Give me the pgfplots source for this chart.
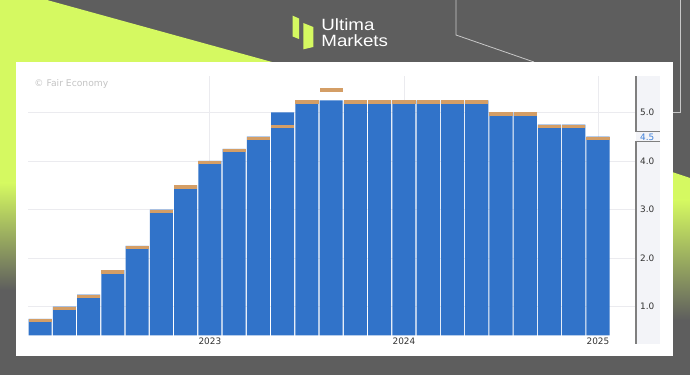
\documentclass[border=0pt]{standalone}
\usepackage{fontspec}
\setmainfont{DejaVu Sans}
\newfontfamily\logofont[FakeStretch=1.15]{Liberation Sans}
\usepackage{pgfplots}
\pgfplotsset{compat=1.18}
\definecolor{bggray}{HTML}{5E5E5E}
\definecolor{lime}{HTML}{D5F961}
\definecolor{stripc}{HTML}{F3F4F8}
\definecolor{axisgray}{HTML}{7F7F7F}
\definecolor{gridc}{HTML}{EBEBEF}
\definecolor{barblue}{HTML}{3173C9}
\definecolor{fcorange}{HTML}{D49E66}
\definecolor{txt}{HTML}{333333}
\definecolor{lblblue}{HTML}{3D7FD9}
\definecolor{thinline}{HTML}{C8C8C8}
\definecolor{copyc}{HTML}{C4C4C4}
\pgfdeclareplotmark{fband}{%
  \pgfpathrectangle{\pgfpoint{-11.6bp}{-3.4bp}}{\pgfpoint{23.2bp}{3.4bp}}%
  \pgfusepathqfill}
\begin{document}
\begin{tikzpicture}[x=1bp,y=1bp]
\useasboundingbox (0,0) rectangle (690,375);
\fill[bggray] (0,0) rectangle (690,375);
% lime decorations
\fill[lime] (0,375) -- (47,375) -- (272,313) -- (272,310) -- (0,310) -- cycle;
\fill[lime] (0,310.5) rectangle (17,192);
\shade[top color=lime, bottom color=bggray] (0,192.2) rectangle (17,85);
\fill[lime] (672,203) -- (690,197) -- (690,175) -- (672,175) -- cycle;
\shade[top color=lime, bottom color=bggray] (672,175.2) rectangle (690,55);
% thin lines
\draw[thinline, line width=0.8] (456,376) -- (456,340) -- (534,313);
\draw[thinline, line width=0.8] (680,376) -- (680,263) -- (672,263);
% white panel
\fill[white] (16,313) rectangle (673,19.5);
% logo
\fill[lime] (292.7,359.3) -- (299,356.5) -- (299,336) -- (292.7,338.5) -- cycle;
\fill[lime] (303.3,352) -- (313.3,348) -- (313.3,328) -- (303.3,325.7) -- cycle;
\node[anchor=base west, inner sep=0, text=white, font=\logofont\fontsize{16.3bp}{17bp}\selectfont] at (321.2,344.3) {Ultima};
\node[anchor=base west, inner sep=0, text=white, font=\logofont\fontsize{16.3bp}{17bp}\selectfont] at (321.2,328.8) {Markets};
% copyright
\node[anchor=west, inner sep=0, text=copyc, font=\fontsize{9.2bp}{10bp}\selectfont] at (34.3,290.7) {© Fair Economy};
% right strip
\fill[stripc] (636,299) rectangle (660,31);
\begin{axis}[
  at={(28bp,39.7bp)}, anchor=south west,
  scale only axis, width=608bp, height=259.3bp,
  xmin=-0.5, xmax=24.57, ymin=0.41, ymax=5.75,
  axis line style={draw=none},
  tick style={draw=none},
  ytick={1,2,3,4,5},
  xtick={7,15,23}, xticklabels={2023,2024,2025},
  /pgf/number format/assume math mode=true,
  /pgf/number format/.cd, fixed, fixed zerofill, precision=1, /pgfplots/.cd,
  yticklabel pos=right,
  yticklabel style={anchor=west, inner sep=0, xshift=4bp, text=txt, font=\fontsize{8.9bp}{10bp}\selectfont},
  xticklabel style={anchor=north, inner sep=0, yshift=-2.4bp, text=txt, font=\fontsize{8.9bp}{10bp}\selectfont},
  xmajorgrids, ymajorgrids,
  major grid style={gridc, line width=0.8bp},
]
\addplot[ybar, bar shift=0pt, bar width=0.955, fill=barblue, draw=none] coordinates {
(0,0.75) (1,1.0) (2,1.25) (3,1.75) (4,2.25) (5,3.0) (6,3.5) (7,4.0) (8,4.25) (9,4.5)
(10,5.0) (11,5.25) (12,5.25) (13,5.25) (14,5.25) (15,5.25) (16,5.25) (17,5.25) (18,5.25)
(19,5.0) (20,5.0) (21,4.75) (22,4.75) (23,4.5)};
\addplot[only marks, mark=fband, color=fcorange] coordinates {
(0,0.75) (1,1.0) (2,1.25) (3,1.75) (4,2.25) (5,3.0) (6,3.5) (7,4.0) (8,4.25) (9,4.5)
(10,4.75) (11,5.25) (12,5.5) (13,5.25) (14,5.25) (15,5.25) (16,5.25) (17,5.25) (18,5.25)
(19,5.0) (20,5.0) (21,4.75) (22,4.75) (23,4.5)};
\end{axis}
% right axis line and current value box
\draw[axisgray, line width=1.2] (636,299) -- (636,243.3) -- (660,243.3);
\draw[axisgray, line width=1.2] (660,233.3) -- (636,233.3) -- (636,31);
\node[anchor=west, inner sep=0, text=lblblue, font=\fontsize{8.9bp}{10bp}\selectfont] at (640,237.8) {4.5};
\end{tikzpicture}
\end{document}
